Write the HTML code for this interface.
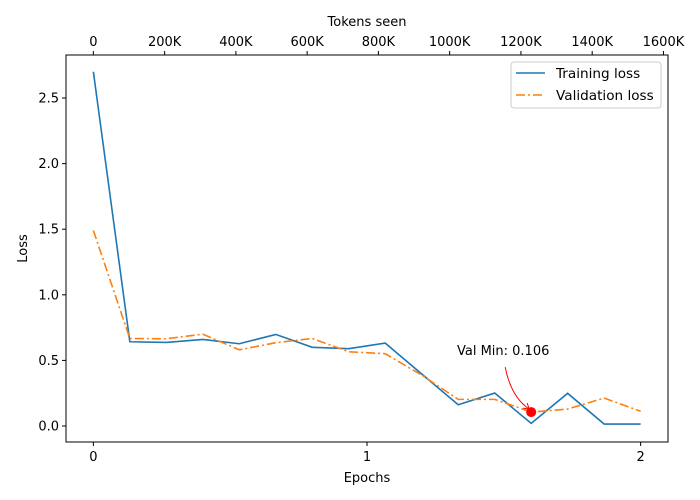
<!DOCTYPE html>
<html><head><meta charset="utf-8"><style>
body{margin:0;background:#fff}
svg{display:block;font-family:"DejaVu Sans","Liberation Sans",sans-serif}
</style></head><body>
<svg id="c" width="700" height="500"></svg>
<script>
const epochs=[0,0.1333,0.2667,0.4,0.5333,0.6667,0.8,0.9333,1.0667,1.2,1.3333,1.4667,1.6,1.7333,1.8667,2.0];
const trainLoss=[2.70,0.642,0.637,0.66,0.627,0.698,0.60,0.589,0.632,0.396,0.162,0.251,0.02,0.249,0.015,0.015];
const valLoss=[1.49,0.667,0.665,0.70,0.581,0.635,0.667,0.566,0.551,0.388,0.203,0.203,0.106,0.129,0.213,0.112];
const xTicks=[0,1,2];
const yTicks=[0,0.5,1.0,1.5,2.0,2.5];
const tokenTicks=[0,200,400,600,800,1000,1200,1400,1600];
const tokensPerEpoch=768;
const L=66,R=668,T=55,B=442;
const xMin=-0.1,xMax=2.1,yMin=-0.122,yMax=2.828;
const X=e=>L+(e-xMin)/(xMax-xMin)*(R-L);
const Y=v=>B-(v-yMin)/(yMax-yMin)*(B-T);
const XT=t=>X(t/tokensPerEpoch);
const svg=document.getElementById('c');
const NS='http://www.w3.org/2000/svg';
function mk(tag,attrs,parent){const el=document.createElementNS(NS,tag);for(const k in attrs)el.setAttribute(k,attrs[k]);(parent||svg).appendChild(el);return el;}
function txt(s,x,y,anchor,size){const t=mk('text',{x:x,y:y,'text-anchor':anchor||'middle','font-size':size||13,fill:'#000'});t.textContent=s;return t;}
let el;
el=mk('rect',{x:L,y:T,width:R-L,height:B-T,fill:'none',stroke:'#000','stroke-width':1});


xTicks.forEach(v=>{
  el=mk('line',{x1:X(v),x2:X(v),y1:B,y2:B+4,stroke:'#000'});
  
  
  el=txt(String(v),X(v),B+19);
  
  
});
yTicks.forEach(v=>{
  el=mk('line',{x1:L-4,x2:L,y1:Y(v),y2:Y(v),stroke:'#000'});
  
  
  el=txt(v.toFixed(1),L-7,Y(v)+4.5,'end');
  
  
});
tokenTicks.forEach(v=>{
  el=mk('line',{x1:XT(v),x2:XT(v),y1:T-4,y2:T,stroke:'#000'});
  
  
  el=txt(v===0?'0':v+'K',XT(v),T-9);
  
  
});
el=txt('Epochs',(L+R)/2,482);


el=txt('Tokens seen',(L+R)/2,26);


el=txt('Loss',0,0);
el.setAttribute('transform','translate(27,'+((T+B)/2)+') rotate(-90)');


const pts=a=>a.map((v,i)=>X(epochs[i])+','+Y(v)).join(' ');
el=mk('polyline',{points:pts(trainLoss),fill:'none',stroke:'#1f77b4','stroke-width':1.6});


el=mk('polyline',{points:pts(valLoss),fill:'none',stroke:'#ff7f0e','stroke-width':1.6,'stroke-dasharray':'9,3,2,3'});


let mi=0;valLoss.forEach((v,i)=>{if(v<valLoss[mi])mi=i;});
const mx=X(epochs[mi]),my=Y(valLoss[mi]);
el=mk('circle',{cx:mx,cy:my,r:5,fill:'red'});


el=txt('Val Min: '+valLoss[mi].toFixed(3),mx-28,my-57);


el=mk('path',{d:`M${mx-26},${my-45} Q${mx-20},${my-15} ${mx-2},${my-3}`,fill:'none',stroke:'red','stroke-width':1});


el=mk('path',{d:`M${mx-2},${my-3} l-6,-1 M${mx-2},${my-3} l-2,-6`,fill:'none',stroke:'red','stroke-width':1});


const lg=mk('g',{});


mk('rect',{x:511,y:62,width:150,height:46,rx:3,fill:'#fff',stroke:'#ccc'},lg);
el=mk('line',{x1:516,x2:545,y1:73,y2:73,stroke:'#1f77b4','stroke-width':1.6},lg);


el=mk('line',{x1:516,x2:545,y1:95,y2:95,stroke:'#ff7f0e','stroke-width':1.6,'stroke-dasharray':'9,3,2,3'},lg);


el=txt('Training loss',556,78,'start',13.6);lg.appendChild(el);


el=txt('Validation loss',556,100,'start',13.6);lg.appendChild(el);


</script>
</body></html>
